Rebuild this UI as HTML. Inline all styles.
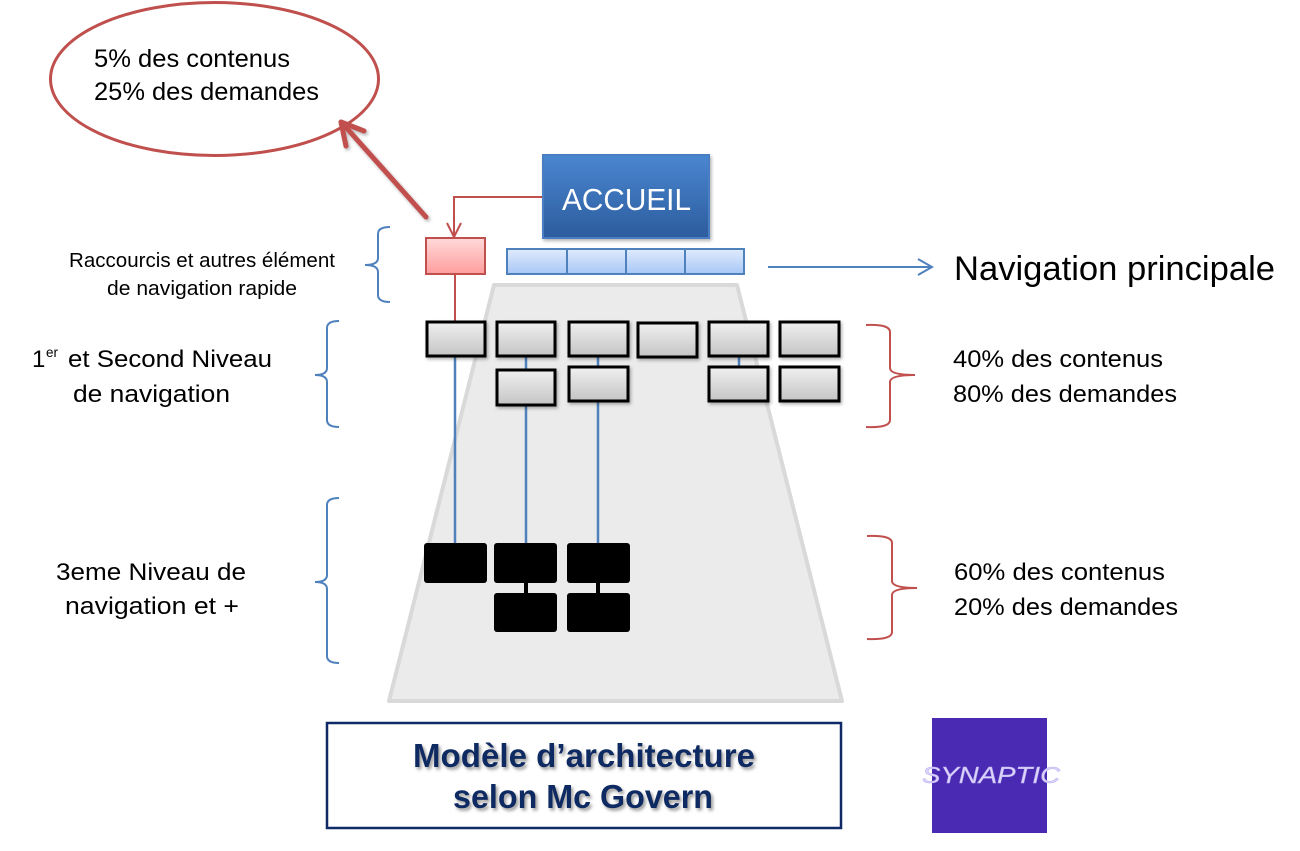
<!DOCTYPE html>
<html><head><meta charset="utf-8">
<style>
html,body{margin:0;padding:0;background:#fff;}
svg{display:block;}
text{font-family:"Liberation Sans",sans-serif;}
</style></head>
<body>
<svg width="1300" height="851" viewBox="0 0 1300 851" xmlns="http://www.w3.org/2000/svg">
<defs>
<linearGradient id="gAcc" x1="0" y1="0" x2="0" y2="1"><stop offset="0" stop-color="#4a86d0"/><stop offset="1" stop-color="#2c5c9d"/></linearGradient>
<linearGradient id="gBlue" x1="0" y1="0" x2="0" y2="1"><stop offset="0" stop-color="#e0ebfd"/><stop offset="1" stop-color="#a8c7f6"/></linearGradient>
<linearGradient id="gRed" x1="0" y1="0" x2="0" y2="1"><stop offset="0" stop-color="#ffd9d9"/><stop offset="1" stop-color="#ff9d9d"/></linearGradient>
<linearGradient id="gGray" x1="0" y1="0" x2="0" y2="1"><stop offset="0" stop-color="#f0f0f0"/><stop offset="1" stop-color="#c4c4c4"/></linearGradient>
<filter id="sh" x="-20%" y="-20%" width="150%" height="150%"><feDropShadow dx="1.5" dy="2" stdDeviation="1.5" flood-color="#000" flood-opacity="0.3"/></filter>
<filter id="tsh" x="-10%" y="-20%" width="120%" height="150%"><feDropShadow dx="2" dy="2.5" stdDeviation="1.6" flood-color="#777" flood-opacity="0.75"/></filter>
</defs>

<!-- trapezoid -->
<polygon points="494,285 737,285 842,701 389,701" fill="#ebebeb" stroke="#d9d9d9" stroke-width="4" stroke-linejoin="round"/>

<!-- ellipse -->
<ellipse cx="214.5" cy="79" rx="164" ry="76.5" fill="none" stroke="#c0504d" stroke-width="3"/>
<text x="94" y="67" font-size="25" textLength="196" lengthAdjust="spacingAndGlyphs" fill="#000">5% des contenus</text>
<text x="94" y="100" font-size="25" textLength="225" lengthAdjust="spacingAndGlyphs" fill="#000">25% des demandes</text>

<!-- thick red arrow -->
<g filter="url(#sh)" stroke="#c0504d" stroke-width="5" fill="none" stroke-linecap="round" stroke-linejoin="round">
<line x1="426" y1="217" x2="343" y2="124"/>
<polyline points="346,146 341,122 364,131"/>
</g>

<!-- red connector from accueil -->
<polyline points="543,197 454,197 454,236" fill="none" stroke="#c0504d" stroke-width="2"/>
<polyline points="447,223 454,237 461,223" fill="none" stroke="#c0504d" stroke-width="2"/>

<!-- accueil -->
<rect x="543" y="155" width="166" height="83" fill="url(#gAcc)" stroke="#4a7fc2" stroke-width="2" filter="url(#sh)"/>
<text x="562" y="210" font-size="31" textLength="129" lengthAdjust="spacingAndGlyphs" fill="#fff">ACCUEIL</text>

<!-- red box -->
<rect x="426" y="238" width="59" height="36" fill="url(#gRed)" stroke="#c0504d" stroke-width="2"/>
<line x1="455" y1="274" x2="455" y2="321" stroke="#c0504d" stroke-width="2"/>

<!-- blue bar -->
<g stroke="#4f81bd" stroke-width="2" fill="url(#gBlue)">
<rect x="507" y="249" width="60" height="25"/>
<rect x="567" y="249" width="59" height="25"/>
<rect x="626" y="249" width="59" height="25"/>
<rect x="685" y="249" width="59" height="25"/>
</g>

<!-- blue arrow to nav principale -->
<line x1="768" y1="267" x2="932" y2="267" stroke="#4f81bd" stroke-width="2"/>
<polyline points="918,259 932,267 918,275" fill="none" stroke="#4f81bd" stroke-width="2"/>
<text x="954" y="280" font-size="34" textLength="321" lengthAdjust="spacingAndGlyphs" fill="#000">Navigation principale</text>

<!-- blue connectors -->
<g stroke="#4f81bd" stroke-width="2.5">
<line x1="455" y1="356" x2="455" y2="545"/>
<line x1="526" y1="356" x2="526" y2="370"/>
<line x1="526" y1="405" x2="526" y2="545"/>
<line x1="598" y1="356" x2="598" y2="367"/>
<line x1="598" y1="400" x2="598" y2="545"/>
<line x1="739" y1="356" x2="739" y2="367"/>
</g>

<!-- gray boxes -->
<g fill="url(#gGray)" stroke="#000" stroke-width="3" filter="url(#sh)">
<rect x="427" y="322" width="58" height="34"/>
<rect x="497" y="322" width="58" height="34"/>
<rect x="569" y="322" width="59" height="34"/>
<rect x="638" y="323" width="59" height="34"/>
<rect x="709" y="322" width="59" height="34"/>
<rect x="780" y="322" width="59" height="34"/>
<rect x="497" y="370" width="58" height="35"/>
<rect x="569" y="367" width="59" height="34"/>
<rect x="709" y="367" width="59" height="34"/>
<rect x="780" y="367" width="59" height="34"/>
</g>

<!-- black boxes -->
<g fill="#000">
<rect x="424" y="543" width="63" height="40" rx="3"/>
<rect x="494" y="543" width="63" height="40" rx="3"/>
<rect x="567" y="543" width="63" height="40" rx="3"/>
<rect x="494" y="593" width="63" height="39" rx="3"/>
<rect x="567" y="593" width="63" height="39" rx="3"/>
<rect x="524" y="582" width="4" height="12"/>
<rect x="596" y="582" width="4" height="12"/>
</g>

<!-- left braces -->
<g fill="none" stroke="#4f81bd" stroke-width="2">
<path d="M390,227 Q378,227 378,234 L378,258 Q378,265 365,265 Q378,265 378,272 L378,295 Q378,302 390,302"/>
<path d="M339,321 Q327,321 327,328 L327,368 Q327,375 315,375 Q327,375 327,382 L327,420 Q327,427 339,427"/>
<path d="M339,498 Q327,498 327,505 L327,575 Q327,582 315,582 Q327,582 327,589 L327,656 Q327,663 339,663"/>
</g>

<!-- right braces -->
<g fill="none" stroke="#c0504d" stroke-width="2">
<path d="M866,325 Q890,324 890,332 L890,368 Q890,375 915,375 Q890,375 890,382 L890,420 Q890,428 866,427"/>
<path d="M867,536 Q892,535 892,543 L892,581 Q892,588 917,588 Q892,588 892,595 L892,632 Q892,640 867,639"/>
</g>

<!-- left labels -->
<text x="69" y="267" font-size="20" textLength="266" lengthAdjust="spacingAndGlyphs" fill="#000">Raccourcis et autres élément</text>
<text x="107" y="295" font-size="20" textLength="190" lengthAdjust="spacingAndGlyphs" fill="#000">de navigation rapide</text>

<text x="32" y="367" font-size="24" fill="#000">1</text>
<text x="46" y="357" font-size="14" textLength="12" lengthAdjust="spacingAndGlyphs" fill="#000">er</text>
<text x="68" y="367" font-size="24" textLength="204" lengthAdjust="spacingAndGlyphs" fill="#000">et Second Niveau</text>
<text x="73" y="402" font-size="24" textLength="157" lengthAdjust="spacingAndGlyphs" fill="#000">de navigation</text>

<text x="56" y="580" font-size="24" textLength="190" lengthAdjust="spacingAndGlyphs" fill="#000">3eme Niveau de</text>
<text x="65" y="614" font-size="24" textLength="174" lengthAdjust="spacingAndGlyphs" fill="#000">navigation et +</text>

<!-- right labels -->
<text x="953" y="367" font-size="24" textLength="210" lengthAdjust="spacingAndGlyphs" fill="#000">40% des contenus</text>
<text x="953" y="402" font-size="24" textLength="224" lengthAdjust="spacingAndGlyphs" fill="#000">80% des demandes</text>
<text x="954" y="580" font-size="24" textLength="211" lengthAdjust="spacingAndGlyphs" fill="#000">60% des contenus</text>
<text x="954" y="615" font-size="24" textLength="224" lengthAdjust="spacingAndGlyphs" fill="#000">20% des demandes</text>

<!-- title box -->
<rect x="327" y="723" width="514" height="105" fill="#fff" stroke="#0f2a66" stroke-width="2.5"/>
<g filter="url(#tsh)" fill="#0d2a62" font-weight="bold" font-size="33">
<text x="413" y="767" textLength="342" lengthAdjust="spacingAndGlyphs">Modèle d’architecture</text>
<text x="453" y="808" textLength="260" lengthAdjust="spacingAndGlyphs">selon Mc Govern</text>
</g>

<!-- synaptic logo -->
<rect x="932" y="718" width="115" height="115" fill="#4a2ab3"/>
<text x="922" y="783" font-size="23" font-style="italic" textLength="138" lengthAdjust="spacingAndGlyphs" fill="#dcd4fa" stroke="#b9acef" stroke-width="0.5">SYNAPTIC</text>
</svg>
</body></html>
